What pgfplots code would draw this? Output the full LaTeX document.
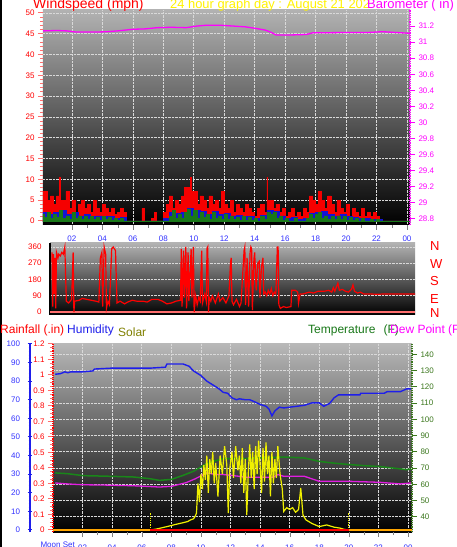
\documentclass[border=0pt]{standalone}
\usepackage{fontspec}
\setmainfont{Liberation Sans}
\usepackage{pgfplots}
\pgfplotsset{compat=1.18}
\definecolor{wred}{RGB}{245,0,0}
\definecolor{tickred}{RGB}{255,110,110}
\definecolor{mag}{RGB}{255,0,255}
\definecolor{labblue}{RGB}{50,50,255}
\definecolor{wgreen}{RGB}{25,120,25}
\definecolor{wblue}{RGB}{20,20,210}
\definecolor{tgreen}{RGB}{60,120,30}
\definecolor{tline}{RGB}{25,135,25}
\definecolor{olivec}{RGB}{128,128,0}
\definecolor{hblue}{RGB}{30,30,235}
\definecolor{solarc}{RGB}{240,240,0}
\definecolor{orangec}{RGB}{255,165,0}
\definecolor{dewc}{RGB}{225,30,225}
\definecolor{bgA}{RGB}{178,178,178}
\definecolor{bgB}{RGB}{185,185,185}
\pgfplotsset{
 common/.style={scale only axis, anchor=south west,
   /pgf/number format/assume math mode=true,
   tick label style={font=\fontsize{8}{9}\selectfont},
   tick align=outside, major tick length=5pt, minor tick length=3pt},
 gridst/.style={grid style={densely dotted, white!70!gray, line width=0.6pt}},
}
\begin{document}
\begin{tikzpicture}[x=1pt,y=1pt]
\fill[white] (0,0) rectangle (456,547);
\useasboundingbox (0,0) rectangle (456,547);
\fill[black] (0,0) rectangle (1.5,547);

%% ---------------- Panel 1: wind speed ----------------
\begin{axis}[common, gridst, at={(43pt,322pt)}, width=367pt, height=215pt,
  xmin=0.1, xmax=24.2, ymin=-1, ymax=50.7,
  axis background/.style={top color=bgA, bottom color=black},
  axis x line*=bottom, axis y line*=left, axis line style={draw=none},
  xtick={2,4,...,24}, xticklabels={02,04,06,08,10,12,14,16,18,20,22,00},
  minor x tick num=1,
  xticklabel style={text=labblue, anchor=base, yshift=-11.5pt},
  x tick style={gray},
  ytick={0,5,...,50}, minor y tick num=4,
  yticklabel style={text=red},
  y tick style={tickred, line width=1pt},
  grid=major]
\addplot[solid, const plot, fill=wred, draw=wred, line width=0.6pt] coordinates {
(0,7)(0.2,7)(0.4,5)(0.6,6)(0.8,4)(1.0,6)(1.2,10.5)(1.26,5)(1.4,5)(1.6,7)(1.8,3)(2.0,5)(2.2,2)(2.4,4)(2.6,5)(2.8,3)(3.0,4)(3.2,2)(3.4,5)(3.6,3)(3.8,2)(4.0,4)(4.2,3)(4.4,2)(4.6,3)(4.8,1.5)(5.0,2)(5.2,3)(5.4,2)(5.6,0)(6.5,0)(6.6,3)(6.75,0)(7.2,0.5)(7.4,2)(7.55,0)(8.0,2)(8.2,4)(8.4,6)(8.6,3)(8.8,5)(9.0,4)(9.2,6)(9.4,8)(9.6,8)(9.8,10.5)(9.86,7)(10.0,7)(10.2,4)(10.4,6)(10.6,5)(10.8,3)(11.0,6)(11.2,4)(11.4,5)(11.6,3)(11.8,7)(12.0,4)(12.2,3)(12.4,5)(12.6,2)(12.8,4)(13.0,3)(13.2,2)(13.4,4)(13.6,3)(13.8,2)(14.0,1)(14.2,3)(14.4,4)(14.6,2)(14.8,10.5)(14.86,5)(15.0,5)(15.2,3)(15.4,4)(15.6,2)(15.8,3)(16.0,1)(16.2,2)(16.4,3)(16.6,1)(16.8,2)(17.0,1)(17.2,3)(17.4,2)(17.6,6)(17.8,5)(18.0,4)(18.2,7)(18.4,5)(18.6,3)(18.8,6)(19.0,4)(19.2,2)(19.4,5)(19.6,3)(19.8,2)(20.0,4)(20.2,1)(20.4,3)(20.6,2)(20.8,1)(21.0,3)(21.2,1)(21.4,2)(21.6,1)(21.8,2)(22.0,1)(22.2,0)(24.2,0)} \closedcycle;
\addplot[solid, const plot, fill=wblue, draw=wblue, line width=0.6pt] coordinates {
(0,2)(0.4,1.5)(0.8,2)(1.2,2.5)(1.6,1.5)(2.0,2)(2.4,1.2)(2.8,1.5)(3.2,1)(3.6,1.2)(4.0,1)(4.4,1)(4.8,0.6)(5.2,0.8)(5.6,0)(8.0,0.5)(8.4,2)(8.8,1.8)(9.2,2)(9.6,3)(10.0,2.5)(10.4,2.2)(10.8,1.6)(11.2,2.2)(11.6,1.5)(12.0,1.8)(12.4,1.2)(12.8,1.4)(13.2,1.1)(13.6,1)(14.0,0.6)(14.4,1.4)(14.8,2.5)(15.2,2.2)(15.6,1.2)(16.0,0.6)(16.4,0.8)(16.8,0.4)(17.2,0.6)(17.6,1.8)(18.0,2)(18.4,2.2)(18.8,1.5)(19.2,1.2)(19.6,1.5)(20.0,1)(20.4,0.8)(20.8,0.5)(21.2,0.5)(21.6,0.4)(22.0,0.4)(22.4,0)(24.2,0)} \closedcycle;
\addplot[solid, const plot, fill=wgreen, draw=wgreen, line width=0.6pt] coordinates {
(0,1.5)(0.2,0.8)(0.4,2)(0.6,0.5)(0.8,1.5)(1.0,0.8)(1.2,2.5)(1.4,0.5)(1.6,1.2)(1.8,0.3)(2.0,2)(2.2,0.5)(2.4,1.2)(2.6,0.3)(2.8,1)(3.0,0.3)(3.2,1)(3.4,0.3)(3.6,0.8)(3.8,0.2)(4.0,1)(4.2,0.3)(4.4,0.8)(4.6,0.2)(4.8,0.6)(5.0,0.2)(5.2,0.5)(5.4,0)(8.2,0)(8.4,1)(8.6,2.5)(8.8,0.5)(9.0,1.5)(9.2,0.5)(9.4,2)(9.6,2.8)(9.8,1.2)(10.0,2.5)(10.2,0.5)(10.4,2)(10.6,0.8)(10.8,1.5)(11.0,0.3)(11.2,2)(11.4,0.5)(11.6,1.2)(11.8,0.3)(12.0,1.5)(12.2,0.3)(12.4,1)(12.6,0.3)(12.8,0.8)(13.0,0.2)(13.2,1)(13.4,0.2)(13.6,0.8)(13.8,0.2)(14.0,0.5)(14.2,0)(14.4,1)(14.6,0.3)(14.8,2)(15.0,1.5)(15.2,2)(15.4,0.5)(15.6,1)(15.8,0.2)(16.0,0.5)(16.2,0)(16.6,0.5)(16.8,0)(17.4,0.5)(17.6,1.5)(17.8,0.5)(18.0,1.5)(18.2,2)(18.4,0.5)(18.6,1.2)(18.8,0.3)(19.0,1)(19.2,0.3)(19.4,1.2)(19.6,0.3)(19.8,1)(20.0,0.2)(20.2,0.8)(20.4,0.2)(20.6,0.6)(20.8,0)(21.0,0.5)(21.2,0)(21.6,0.4)(21.8,0)(22.0,0.3)(22.2,0)(24.2,0)} \closedcycle;
\end{axis}

%% barometer
\begin{axis}[common, at={(43pt,322pt)}, width=367pt, height=215pt,
  xmin=0.1, xmax=24.2, ymin=28.725, ymax=31.4,
  hide x axis, axis y line*=right,
  y axis line style={mag, densely dotted, line width=1.2pt},
  ytick={28.8,29,29.2,29.4,29.6,29.8,30,30.2,30.4,30.6,30.8,31,31.2},
  yticklabel style={text=mag},
  y tick style={mag, line width=1pt}]
\addplot[solid, mag, line width=1.3pt] coordinates {
(0.1,31.14)(1.0,31.145)(1.65,31.14)(2.3,31.125)(3.5,31.125)(4.3,31.13)(5.0,31.14)(6.0,31.16)(6.8,31.165)(7.6,31.18)(8.5,31.185)(9.5,31.18)(10.2,31.2)(10.8,31.21)(11.8,31.21)(12.6,31.2)(13.4,31.19)(14.1,31.17)(14.7,31.15)(15.1,31.12)(15.4,31.09)(16.5,31.09)(17.4,31.095)(17.8,31.116)(19.0,31.118)(20.0,31.12)(21.4,31.12)(22.4,31.13)(23.3,31.12)(24.2,31.11)};
\end{axis}

%% ---------------- Panel 2: wind direction ----------------
\begin{axis}[common, gridst, at={(50pt,232pt)}, width=365pt, height=72pt,
  xmin=-0.13, xmax=24, ymin=-16.6, ymax=382,
  axis background/.style={top color=bgA, bottom color=black},
  hide x axis, axis y line*=left,
  y axis line style={black, line width=1.8pt},
  ytick={0,90,180,270,360},
  yticklabel style={text=red},
  y tick style={draw=none},
  ymajorgrids]
\addplot[solid, tickred, line width=1.5pt] coordinates {(-0.13,0)(24,0)};
\addplot[solid, red, line width=1.2pt] coordinates {
(0.0,330)(0.05,30)(0.1,320)(0.15,100)(0.2,300)(0.25,20)(0.3,330)(0.4,300)(0.45,320)(0.55,310)(0.65,330)(0.75,320)(0.85,360)(0.95,60)(1.1,50)(1.3,70)(1.4,330)(1.45,0)(1.5,60)(1.8,65)(2.0,75)(2.3,70)(2.6,65)(2.9,60)(3.1,55)(3.2,300)(3.3,330)(3.35,30)(3.45,360)(3.55,320)(3.6,20)(3.7,60)(3.8,40)(3.95,350)(4.05,360)(4.2,340)(4.3,50)(4.5,60)(4.8,45)(5.0,55)(5.3,65)(5.6,60)(6.0,60)(6.3,55)(6.6,70)(7.0,70)(7.3,60)(7.6,45)(7.9,50)(8.2,60)(8.5,65)(8.55,350)(8.6,30)(8.7,340)(8.75,80)(8.85,360)(8.9,20)(9.0,330)(9.05,60)(9.2,350)(9.25,80)(9.35,360)(9.4,0)(9.5,90)(9.6,40)(9.7,80)(9.8,60)(9.9,340)(9.95,50)(10.1,100)(10.2,60)(10.25,350)(10.3,360)(10.35,0)(10.4,80)(10.5,60)(10.6,90)(10.8,50)(11.0,100)(11.1,60)(11.3,80)(11.5,50)(11.7,90)(11.8,270)(11.85,300)(11.9,60)(12.0,40)(12.2,70)(12.4,30)(12.5,50)(12.7,340)(12.75,360)(12.8,40)(12.9,300)(13.0,30)(13.1,330)(13.15,360)(13.2,350)(13.25,10)(13.35,290)(13.4,330)(13.5,120)(13.6,270)(13.7,280)(13.75,80)(13.85,250)(13.95,300)(14.0,100)(14.1,110)(14.2,90)(14.3,120)(14.4,100)(14.5,130)(14.6,90)(14.7,110)(14.8,100)(14.9,360)(14.95,360)(15.0,40)(15.1,20)(15.3,30)(15.5,25)(15.8,30)(15.85,120)(16.1,120)(16.25,110)(16.3,50)(16.4,100)(16.6,100)(17,110)(17.3,105)(17.6,115)(18.0,115)(18.3,120)(18.5,110)(18.6,135)(18.7,115)(18.9,160)(19.0,120)(19.2,125)(19.4,115)(19.6,110)(19.8,125)(19.9,150)(20.0,115)(20.2,105)(20.4,110)(20.6,100)(21,100)(21.5,98)(22.0,100)(22.5,100)(23,100)(23.5,100)(24,100)};
\end{axis}

%% ---------------- Panel 3 ----------------
\begin{axis}[common, gridst, at={(53pt,15pt)}, width=359pt, height=189pt,
  xmin=0, xmax=24.27, ymin=30.6, ymax=147,
  axis background/.style={top color=bgB, bottom color=black},
  axis x line*=bottom, axis y line*=right,
  x axis line style={draw=none},
  y axis line style={tgreen, densely dotted, line width=1.2pt},
  xtick={2,4,...,24}, xticklabels={02,04,06,08,10,12,14,16,18,20,22,00},
  minor x tick num=1,
  xticklabel style={text=labblue, anchor=base, yshift=-13pt},
  x tick style={gray},
  ytick={40,50,...,140},
  yticklabel style={text=tgreen},
  y tick style={tgreen, line width=1pt},
  grid=major]
\addplot[solid, tline, line width=1.5pt] coordinates {
(0.15,67)(1,66.5)(2.05,65.3)(3.5,65)(5.4,64.5)(6.5,63.5)(7.2,62.4)(8,63)(8.8,65.5)(9.5,68)(10.4,72.7)(11,74.5)(11.5,75.8)(13,75.8)(14,76.2)(15.6,76.8)(17,76.2)(18,74.1)(19,73)(20.1,72.1)(21,71.5)(22.1,70.9)(23,70)(23.9,69)(24.2,69.5)};
\addplot[solid, dewc, line width=1.3pt] coordinates {
(0.15,60.8)(1,60.2)(2,59.7)(3.5,59.5)(5.4,59.1)(7.2,58.3)(8,58.7)(9,61)(9.6,63.3)(10.4,67)(11.0,66)(11.5,66)(12.5,65)(13,64.3)(14.9,64.3)(15.2,66)(15.6,64.9)(17,64.9)(18,61.8)(20.1,61.8)(22.1,61.2)(23.5,60.2)(24.2,60.8)};
\end{axis}

%% humidity + solar
\begin{axis}[common, at={(53pt,15pt)}, width=359pt, height=189pt,
  xmin=0, xmax=24.27, ymin=-1.1, ymax=100.5, axis lines=none]
\addplot[solid, hblue, line width=1.4pt] coordinates {
(0.15,83.7)(0.5,84)(0.8,85)(1.0,84.5)(1.2,85)(2.0,85)(2.7,85.5)(2.8,86.5)(4,87)(5,87)(6.6,87)(7.6,87.5)(7.7,89.2)(8.8,89.2)(9.2,88)(9.5,85.5)(10.0,83)(10.4,80)(10.8,78)(11.2,76)(11.5,74)(11.8,73.5)(12.1,71)(12.4,70)(12.6,70.5)(13.0,70)(13.3,70)(13.6,69)(14.0,67.5)(14.4,66.5)(14.6,65)(14.8,61.3)(15.0,64)(15.3,66)(15.6,65.6)(16.0,66)(16.5,66.5)(17.0,67)(17.5,68.3)(18.0,68.3)(18.3,66.5)(18.7,68)(19.0,71)(19.3,72.6)(20.0,72.6)(20.75,72.6)(20.8,73.5)(22.4,73.5)(22.6,74.4)(23.5,74.4)(23.9,75.8)(24.2,75.8)};
\addplot[solid, solarc, line width=1.2pt] coordinates {
(6.57,0)(7.0,0.5)(7.7,1.8)(8.3,3)(8.8,3.9)(9.1,4.5)(9.3,5.4)(9.5,6)(9.6,7.2)(9.7,9)(9.8,25)(9.9,15)(10.0,30)(10.1,22)(10.2,35)(10.3,27)(10.4,40)(10.5,20)(10.6,38)(10.7,30)(10.8,42)(10.9,25)(11.0,36)(11.15,18)(11.3,40)(11.45,30)(11.6,45)(11.75,35)(11.85,9)(11.95,33)(12.1,42)(12.2,28)(12.35,45)(12.5,32)(12.6,40)(12.7,25)(12.8,44)(12.9,20)(13.0,38)(13.1,8)(13.2,30)(13.3,46)(13.4,28)(13.5,42)(13.6,22)(13.7,45)(13.8,30)(13.9,48)(14.0,35)(14.1,20)(14.2,44)(14.3,26)(14.4,47)(14.5,30)(14.6,40)(14.7,18)(14.8,42)(14.9,25)(15.0,38)(15.1,28)(15.2,45)(15.35,30)(15.5,22)(15.6,10)(15.8,12)(16.0,11)(16.2,12)(16.4,9.5)(16.6,11)(16.75,22.6)(16.9,8)(17.1,5.4)(17.5,3.5)(18.0,1.8)(18.5,2.7)(19.0,1.5)(19.4,1)(19.7,0.3)(20.0,0)};
\addplot[solarc, densely dotted, line width=1.2pt] coordinates {(6.57,0)(6.57,9)};
\addplot[solarc, densely dotted, line width=1.2pt] coordinates {(20,0)(20,9)};
\end{axis}

%% rainfall axis
\begin{axis}[common, at={(53pt,15pt)}, width=359pt, height=189pt,
  xmin=0, xmax=24.27, ymin=-0.0132, ymax=1.206,
  hide x axis, axis y line*=left,
  y axis line style={red, densely dotted, line width=1.2pt},
  ytick={0,0.1,0.2,0.3,0.4,0.5,0.6,0.7,0.8,0.9,1,1.1,1.2},
  minor y tick num=3,
  yticklabel style={text=red},
  y tick style={tickred, line width=1pt}]
\addplot[solid, red, line width=2pt] coordinates {(0,0)(24.27,0)};
\addplot[solid, orangec, line width=2pt] coordinates {(0,0)(6.57,0)};
\addplot[solid, orangec, line width=2pt] coordinates {(20,0)(24.27,0)};
\end{axis}

%% humidity axis (left, blue)
\begin{axis}[common, at={(30pt,15pt)}, width=1pt, height=189pt,
  xmin=0, xmax=1, ymin=-1.1, ymax=100.5,
  hide x axis, axis y line*=left,
  y axis line style={hblue, line width=1.8pt},
  ytick={0,10,...,100}, minor y tick num=4, tick align=center,
  yticklabel style={text=labblue, xshift=-4pt},
  y tick style={hblue, line width=1pt}]
\end{axis}

%% texts
\node[anchor=base west, inner sep=0, text=red, font=\fontsize{14}{16}\selectfont] at (33,538) {Windspeed (mph)};
\node[anchor=base west, inner sep=0, text=yellow, font=\fontsize{12.9}{15}\selectfont] at (170,538) {24 hour graph day : August 21 202};
\node[anchor=base west, inner sep=0, text=mag, font=\fontsize{13}{15}\selectfont] at (367,538) {Barometer ( in)};
\begin{scope}[every node/.style={anchor=base west, inner sep=0, text=red, font=\fontsize{13}{15}\selectfont}]
\node at (430,296.3) {N};
\node at (430,278.7) {W};
\node at (430,261) {S};
\node at (430,243.7) {E};
\node at (430,229.7) {N};
\end{scope}
\node[anchor=base west, inner sep=0, text=red, font=\fontsize{12}{14}\selectfont] at (0,213.7) {Rainfall (.in)};
\node[anchor=base west, inner sep=0, text=hblue, font=\fontsize{12}{14}\selectfont] at (67,213.7) {Humidity};
\node[anchor=base west, inner sep=0, text=olivec, font=\fontsize{12}{14}\selectfont] at (118,210.3) {Solar};
\node[anchor=base west, inner sep=0, text=wgreen, font=\fontsize{12}{14}\selectfont] at (308,213.7) {Temperature\hspace{8pt}(F)};
\node[anchor=base west, inner sep=0, text=mag, font=\fontsize{12}{14}\selectfont] at (390,213.7) {Dew Point (F)};
\node[anchor=base east, inner sep=0, text=labblue, font=\fontsize{8}{9}\selectfont] at (75,0) {Moon Set};
\end{tikzpicture}
\end{document}
